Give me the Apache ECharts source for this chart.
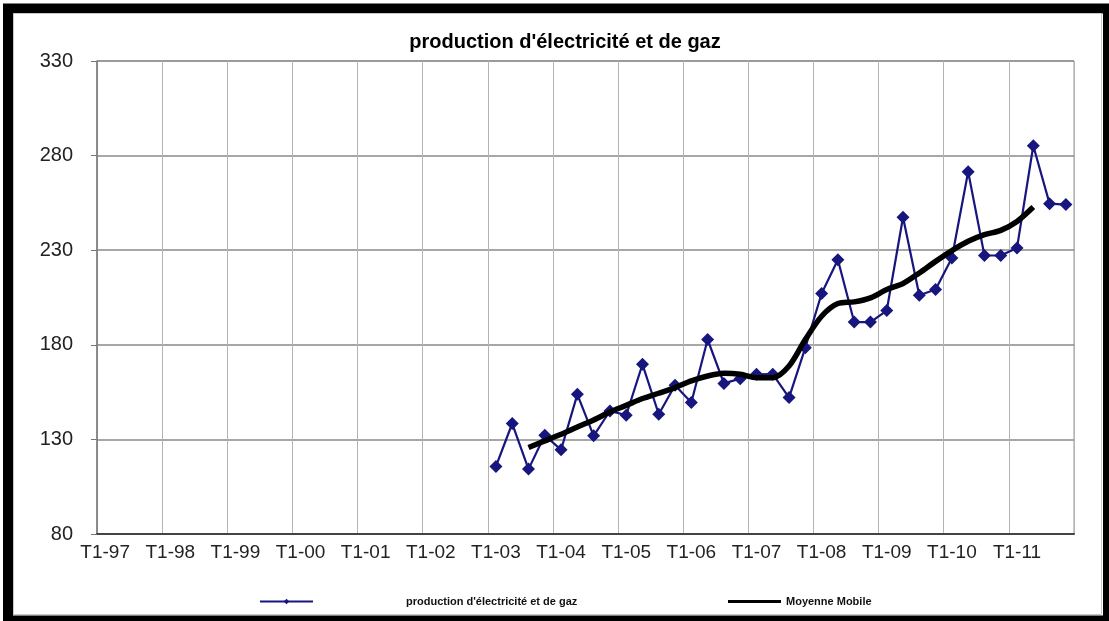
<!DOCTYPE html>
<html>
<head>
<meta charset="utf-8">
<title>production d'électricité et de gaz</title>
<script src="https://cdn.jsdelivr.net/npm/echarts@6/dist/echarts.min.js"></script>
<style>
  html, body { margin: 0; padding: 0; background: #fff; }
  #chart { width: 1109px; height: 621px; }
</style>
</head>
<body>
<div id="chart"></div>
<script>
// quarters T1-97 .. T4-11
const years = ['97', '98', '99', '00', '01', '02', '03', '04', '05', '06', '07', '08', '09', '10', '11'];
const quarters = [];
years.forEach(y => { for (let q = 1; q <= 4; q++) quarters.push('T' + q + '-' + y); });

// production, from T1-03
const productionStart = 24;
const production = [
  115.7, 138.4, 114.3, 132.2, 124.5, 153.8, 131.9, 145.0,
  142.8, 169.7, 143.3, 158.6, 149.5, 182.8, 159.6, 162.1,
  164.4, 164.5, 152.1, 178.5, 207.1, 225.0, 192.0, 192.0,
  198.1, 247.4, 206.2, 209.2, 225.9, 271.5, 227.2, 227.2,
  231.2, 285.2, 254.6, 254.1
];

// moyenne mobile, from T3-03
const movingStart = 26;
const moving = [
  125.7, 129.2, 132.7, 136.6, 140.3, 144.5, 148.0, 151.6,
  154.4, 157.4, 160.9, 163.5, 164.9, 164.4, 162.6, 162.6,
  168.8, 182.8, 195.1, 201.8, 202.7, 204.8, 209.2, 212.4,
  218.0, 224.1, 229.8, 234.7, 238.2, 240.5, 245.2, 252.8
];

const pad = (start, vals) => quarters.map((_, i) => (i >= start && i < start + vals.length) ? vals[i - start] : null);

const chart = echarts.init(document.getElementById('chart'));
const font = '"Liberation Sans", Arial, sans-serif';

chart.setOption({
  animation: false,
  backgroundColor: '#fff',
  textStyle: { fontFamily: font },
  title: {
    text: "production d'électricité et de gaz",
    left: 560,
    textAlign: 'center',
    top: 27,
    textStyle: { fontSize: 20, fontWeight: 'bold', color: '#000', fontFamily: font }
  },
  grid: {
    left: 97, right: 35, top: 61, bottom: 87,
    show: true, borderColor: '#9a9a9a', borderWidth: 1
  },
  legend: [
    {
      data: ["production d'électricité et de gaz"],
      left: 254, top: 591,
      itemWidth: 53, itemHeight: 7,
      lineStyle: { width: 2 },
      textStyle: { fontSize: 11, fontWeight: 'bold', color: '#111', padding: [0, 0, 0, 88] }
    },
    {
      data: [{ name: 'Moyenne Mobile', icon: 'rect' }],
      left: 723, top: 591,
      itemWidth: 53, itemHeight: 3,
      textStyle: { fontSize: 11, fontWeight: 'bold', color: '#111' }
    }
  ],
  xAxis: {
    type: 'category',
    data: quarters,
    boundaryGap: true,
    axisLine: { lineStyle: { color: '#444', width: 2 } },
    axisTick: { interval: 3, length: 6, lineStyle: { color: '#444' } },
    axisLabel: { interval: 3, margin: 9, fontSize: 19, color: '#222', fontFamily: font },
    splitLine: { show: true, interval: 3, lineStyle: { color: '#b4b4b4', width: 1 } }
  },
  yAxis: {
    type: 'value',
    min: 80, max: 330, interval: 50,
    axisLine: { show: true, lineStyle: { color: '#777', width: 1.5 } },
    axisTick: { show: true, length: 6, lineStyle: { color: '#777' } },
    axisLabel: { margin: 24, fontSize: 20, color: '#222', fontFamily: font },
    splitLine: { lineStyle: { color: '#8a8a8a', width: 1.5 } }
  },
  series: [
    {
      name: "production d'électricité et de gaz",
      type: 'line',
      data: pad(productionStart, production),
      symbol: 'diamond',
      symbolSize: 13,
      showAllSymbol: true,
      lineStyle: { color: '#16167e', width: 2.2 },
      itemStyle: { color: '#16167e' },
      z: 2
    },
    {
      name: 'Moyenne Mobile',
      type: 'line',
      data: pad(movingStart, moving),
      symbol: 'none',
      smooth: 0.3,
      lineStyle: { color: '#000', width: 5.5 },
      itemStyle: { color: '#000' },
      z: 3
    }
  ],
  graphic: [
    {
      type: 'rect',
      shape: { x: 8, y: 8.5, width: 1100, height: 612 },
      style: { fill: 'none', stroke: '#000', lineWidth: 10 },
      silent: true
    },
    {
      type: 'rect',
      shape: { x: 13.5, y: 13.5, width: 1088, height: 601 },
      style: { fill: 'none', stroke: '#c8c8c8', lineWidth: 1 },
      silent: true
    }
  ]
});
</script>
</body>
</html>
